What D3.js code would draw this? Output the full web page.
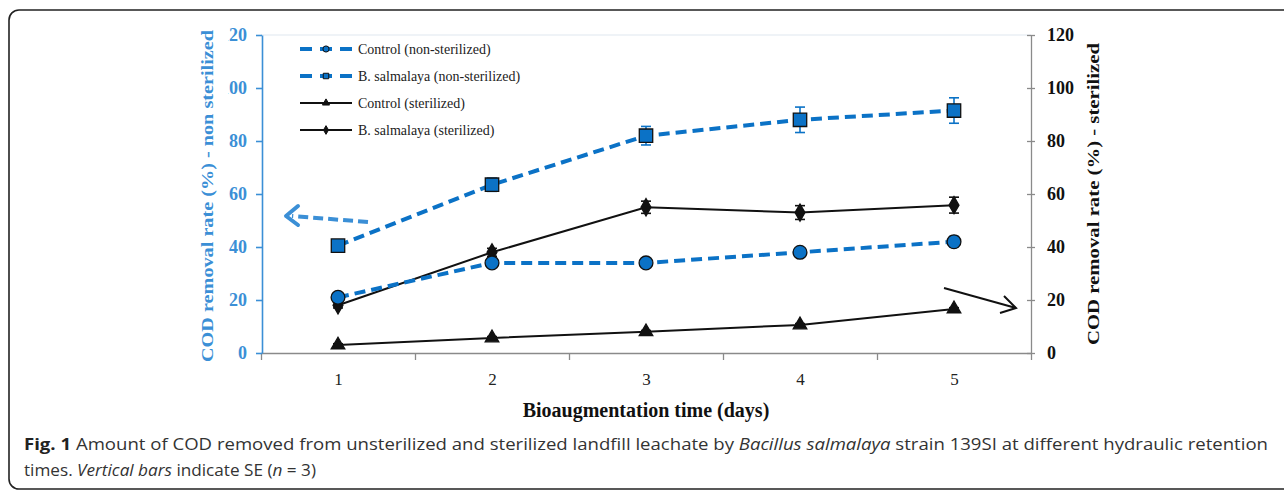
<!DOCTYPE html>
<html>
<head>
<meta charset="utf-8">
<script src="https://cdn.jsdelivr.net/npm/d3@7"></script>
<style>
  body { margin: 0; background: #fff; }
  svg { display: block; }
</style>
</head>
<body>
<div id="chart"></div>
<script>
// days on the x axis
const days = [1, 2, 3, 4, 5];
const xTickMarks = [0.5, 1.5, 2.5, 3.5, 4.5, 5.5];
const yTicks = [0, 20, 40, 60, 80, 100, 120];

// non-sterilized (left axis)
const controlNS = [21, 34, 34, 38, 42];
const controlNSErr = [1, 1.5, 1.5, 1.5, 2];
const bacillusNS = [40.5, 63.5, 82, 88, 91.5];
const bacillusNSErr = [1, 2.5, 3.5, 4.8, 4.8];

// sterilized (right axis)
const controlS = [3, 5.7, 8, 10.6, 16.6];
const controlSErr = [0.5, 0.5, 0.5, 0.5, 0.5];
const bacillusS = [18, 38, 55, 53, 55.8];
const bacillusSErr = [1, 1.5, 2.3, 2.6, 3];

const legendLabels = ["Control (non-sterilized)", "B. salmalaya (non-sterilized)",
                      "Control (sterilized)", "B. salmalaya (sterilized)"];

const width = 1284, height = 494;
const blue = "#0b72c6";
const blueAxis = "#3b8fd6";
const serif = "'Liberation Serif', 'DejaVu Serif', serif";

const svg = d3.select("#chart").append("svg")
    .attr("width", width)
    .attr("height", height);

// outer frame (right side runs off the picture)
svg.append("rect")
    .attr("x", 9).attr("y", 10)
    .attr("width", 1300).attr("height", 479)
    .attr("rx", 10).attr("ry", 10)
    .attr("fill", "none")
    .attr("stroke", "#222")
    .attr("stroke-width", 1.6);

const x = d3.scaleLinear().domain([0.5, 5.5]).range([261, 1031]);
const yL = d3.scaleLinear().domain([0, 120]).range([353, 35]);
const yR = d3.scaleLinear().domain([0, 120]).range([353, 35]);

// faint plot border on top
svg.append("line")
    .attr("x1", x(0.5)).attr("x2", x(5.5))
    .attr("y1", yL(120)).attr("y2", yL(120))
    .attr("stroke", "#dfe7ef");

// x axis marks
const xAxis = svg.append("g")
    .attr("transform", `translate(0,${yL(0)})`)
    .call(d3.axisBottom(x).tickValues(xTickMarks).tickFormat("").tickSizeInner(7).tickSizeOuter(0));
xAxis.selectAll("path, line").attr("stroke", "#8a8a8a").attr("stroke-width", 1.3);

const xLabels = svg.append("g")
    .attr("transform", `translate(0,${yL(0)})`)
    .call(d3.axisBottom(x).tickValues(days).tickFormat(d3.format("d")).tickSize(0).tickPadding(20));
xLabels.select(".domain").remove();
xLabels.selectAll("text")
    .attr("font-family", serif)
    .attr("font-size", 17)
    .attr("fill", "#222");

// left axis (blue) - leading digit of 100/120 is cut off in the original
svg.append("clipPath").attr("id", "leftclip")
  .append("rect").attr("x", 228).attr("y", 0).attr("width", 60).attr("height", height);

const leftAxis = svg.append("g")
    .attr("clip-path", "url(#leftclip)")
  .append("g")
    .attr("transform", `translate(${x(0.5) + 1},0)`)
    .call(d3.axisLeft(yL).tickValues(yTicks).tickSizeInner(6).tickSizeOuter(0).tickPadding(9));
leftAxis.selectAll("path, line").attr("stroke", blueAxis).attr("stroke-width", 1.6);
leftAxis.selectAll("text")
    .attr("font-family", serif)
    .attr("font-weight", "bold")
    .attr("font-size", 18)
    .attr("fill", blueAxis);

// right axis (gray)
const rightAxis = svg.append("g")
    .attr("transform", `translate(${x(5.5)},0)`)
    .call(d3.axisRight(yR).tickValues(yTicks).tickSizeInner(4).tickSizeOuter(0).tickPadding(12));
rightAxis.selectAll("path, line").attr("stroke", "#8a8a8a").attr("stroke-width", 1.3);
rightAxis.selectAll(".tick line").attr("x1", -4);
rightAxis.selectAll("text")
    .attr("font-family", serif)
    .attr("font-weight", "bold")
    .attr("font-size", 18)
    .attr("fill", "#111");

// axis titles
svg.append("text")
    .attr("transform", `translate(213,${(yL(0) + yL(120)) / 2 + 2}) rotate(-90)`)
    .attr("text-anchor", "middle")
    .attr("font-family", serif)
    .attr("font-weight", "bold")
    .attr("font-size", 17)
    .attr("fill", blueAxis)
    .attr("textLength", 332)
    .attr("lengthAdjust", "spacingAndGlyphs")
    .text("COD  removal  rate (%) - non sterilized");

svg.append("text")
    .attr("transform", `translate(1099,${(yR(0) + yR(120)) / 2}) rotate(-90)`)
    .attr("text-anchor", "middle")
    .attr("font-family", serif)
    .attr("font-weight", "bold")
    .attr("font-size", 17)
    .attr("fill", "#111")
    .attr("textLength", 302)
    .attr("lengthAdjust", "spacingAndGlyphs")
    .text("COD  removal  rate (%) - sterilized");

svg.append("text")
    .attr("x", (x(0.5) + x(5.5)) / 2)
    .attr("y", 417)
    .attr("text-anchor", "middle")
    .attr("font-family", serif)
    .attr("font-weight", "bold")
    .attr("font-size", 20)
    .attr("fill", "#111")
    .text("Bioaugmentation time (days)");

// series drawing
const line = y => d3.line().x((d, i) => x(days[i])).y(d => y(d));

function drawErr(vals, errs, y, color) {
    vals.forEach((v, i) => {
        const cx = x(days[i]);
        svg.append("line")
            .attr("x1", cx).attr("x2", cx)
            .attr("y1", y(v - errs[i])).attr("y2", y(v + errs[i]))
            .attr("stroke", color).attr("stroke-width", 1.6);
        [v - errs[i], v + errs[i]].forEach(e => {
            svg.append("line")
                .attr("x1", cx - 5).attr("x2", cx + 5)
                .attr("y1", y(e)).attr("y2", y(e))
                .attr("stroke", color).attr("stroke-width", 1.6);
        });
    });
}

function drawSeries(vals, errs, y, opts) {
    drawErr(vals, errs, y, opts.color);
    svg.append("path")
        .datum(vals)
        .attr("d", line(y))
        .attr("fill", "none")
        .attr("stroke", opts.color)
        .attr("stroke-width", opts.width)
        .attr("stroke-dasharray", opts.dash || null);
    svg.selectAll(null)
        .data(vals)
        .enter().append("path")
        .attr("transform", (d, i) => `translate(${x(days[i])},${y(d)})`)
        .attr("d", d3.symbol().type(opts.symbol).size(opts.size))
        .attr("fill", opts.fill)
        .attr("stroke", "#111")
        .attr("stroke-width", 1.3);
}

const seriesOpts = [
    {color: blue, width: 4, dash: "11,6", symbol: d3.symbolCircle, size: 150, fill: blue},
    {color: blue, width: 4, dash: "11,6", symbol: d3.symbolSquare, size: 180, fill: blue},
    {color: "#111", width: 2, dash: null, symbol: d3.symbolTriangle, size: 80, fill: "#111"},
    {color: "#111", width: 2, dash: null, symbol: d3.symbolDiamond, size: 85, fill: "#111"}
];

drawSeries(controlS, controlSErr, yR, seriesOpts[2]);
drawSeries(bacillusS, bacillusSErr, yR, seriesOpts[3]);
drawSeries(controlNS, controlNSErr, yL, seriesOpts[0]);
drawSeries(bacillusNS, bacillusNSErr, yL, seriesOpts[1]);

// legend
const legendY = [49, 76, 103, 130];
legendLabels.forEach((label, i) => {
    const o = seriesOpts[i];
    const g = svg.append("g").attr("transform", `translate(300,${legendY[i]})`);
    g.append("line")
        .attr("x1", 0).attr("x2", 52)
        .attr("stroke", o.color)
        .attr("stroke-width", o.width)
        .attr("stroke-dasharray", o.dash ? "12,8" : null);
    g.append("path")
        .attr("transform", "translate(26,0)")
        .attr("d", d3.symbol().type(o.symbol).size(i < 2 ? 30 : 22))
        .attr("fill", o.fill)
        .attr("stroke", "#111")
        .attr("stroke-width", 1);
    g.append("text")
        .attr("x", 58)
        .attr("y", 5)
        .attr("font-family", serif)
        .attr("font-size", 14)
        .attr("fill", "#222")
        .text(label);
});

// arrows pointing at the axes
svg.append("line")
    .attr("x1", 368).attr("y1", 222).attr("x2", 292).attr("y2", 216)
    .attr("stroke", blueAxis).attr("stroke-width", 4).attr("stroke-dasharray", "10,5");
svg.append("path")
    .attr("d", "M298,206 L286,216 L298,225")
    .attr("fill", "none").attr("stroke", blueAxis).attr("stroke-width", 4)
    .attr("stroke-linecap", "round").attr("stroke-linejoin", "round");

svg.append("line")
    .attr("x1", 944).attr("y1", 288).attr("x2", 1016).attr("y2", 308)
    .attr("stroke", "#111").attr("stroke-width", 2);
svg.append("path")
    .attr("d", "M1004,296 L1016,308 L1000,313")
    .attr("fill", "none").attr("stroke", "#111").attr("stroke-width", 2);

// caption
const cap1 = svg.append("text")
    .attr("x", 24).attr("y", 450)
    .attr("font-family", "'Open Sans', 'Noto Sans', sans-serif")
    .attr("font-size", 16)
    .attr("fill", "#333")
    .attr("textLength", 1244)
    .attr("lengthAdjust", "spacingAndGlyphs");
cap1.append("tspan").attr("font-weight", "bold").attr("fill", "#222").text("Fig. 1");
cap1.append("tspan").text(" Amount of COD removed from unsterilized and sterilized landfill leachate by ");
cap1.append("tspan").attr("font-style", "italic").text("Bacillus salmalaya");
cap1.append("tspan").text(" strain 139SI at different hydraulic retention");

const cap2 = svg.append("text")
    .attr("x", 24).attr("y", 476)
    .attr("font-family", "'Open Sans', 'Noto Sans', sans-serif")
    .attr("font-size", 16)
    .attr("fill", "#333")
    .attr("textLength", 292)
    .attr("lengthAdjust", "spacingAndGlyphs");
cap2.append("tspan").text("times. ");
cap2.append("tspan").attr("font-style", "italic").text("Vertical bars");
cap2.append("tspan").text(" indicate SE (");
cap2.append("tspan").attr("font-style", "italic").text("n");
cap2.append("tspan").text(" = 3)");
</script>
</body>
</html>
